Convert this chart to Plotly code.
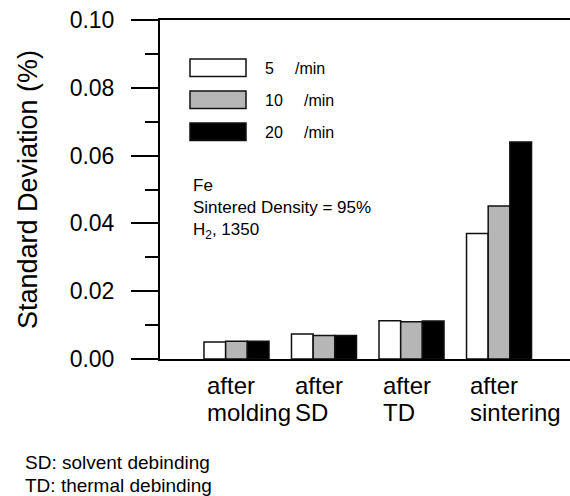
import plotly.graph_objects as go

# Processing stages and standard deviation (%) for each heating rate
stage_top = ["after", "after", "after", "after"]
stage_bottom = ["molding", "SD", "TD", "sintering"]
rate_labels = ["5", "10", "20"]
rate_unit = "/min"
rate5 = [0.0050, 0.0074, 0.0113, 0.0370]
rate10 = [0.0052, 0.0069, 0.0110, 0.0451]
rate20 = [0.0052, 0.0069, 0.0112, 0.0640]
y_ticks = [0.00, 0.02, 0.04, 0.06, 0.08, 0.10]
note_lines = ["Fe", "Sintered Density = 95%", "H<sub>2</sub>, 1350"]
footnotes = ["SD: solvent debinding", "TD: thermal debinding"]

FONT = "Liberation Sans, Arial, sans-serif"
W, H = 570, 496
L, R, T, B = 160, 0, 20, 137
fills = ["#ffffff", "#b6b6b6", "#000000"]
series = [rate5, rate10, rate20]

fig = go.Figure()
xpos = list(range(len(stage_top)))
for name, vals, col in zip(rate_labels, series, fills):
    fig.add_trace(go.Bar(
        x=xpos, y=vals, name=name + " " + rate_unit,
        marker=dict(color=col, line=dict(color="#111111", width=1.5)),
        showlegend=False,
    ))

# helpers to convert pixel positions to paper coordinates
pw, ph = W - L - R, H - T - B
def px(x):
    return (x - L) / pw
def py(y):
    return (H - B - y) / ph

shapes = []
annotations = []

# hand-drawn key with large swatches
box_tops = [59, 91, 123]
unit_x = [293, 302, 302]
for lab, col, top, ux in zip(rate_labels, fills, box_tops, unit_x):
    shapes.append(dict(type="rect", xref="paper", yref="paper",
                       x0=px(190), x1=px(246), y0=py(top + 17.5), y1=py(top),
                       fillcolor=col, line=dict(color="#111111", width=1.5)))
    annotations.append(dict(xref="paper", yref="paper", x=px(263), y=py(top + 9),
                            text=lab, showarrow=False, xanchor="left", yanchor="middle",
                            font=dict(size=16, color="black", family=FONT)))
    annotations.append(dict(xref="paper", yref="paper", x=px(ux), y=py(top + 9),
                            text=rate_unit, showarrow=False, xanchor="left", yanchor="middle",
                            font=dict(size=16, color="black", family=FONT)))

# sample conditions
annotations.append(dict(xref="paper", yref="paper", x=px(191), y=py(174),
                        text="<br>".join(note_lines), showarrow=False,
                        xanchor="left", yanchor="top", align="left",
                        font=dict(size=17, color="black", family=FONT)))

# stage labels under each group (two lines each)
for i, (a, b) in enumerate(zip(stage_top, stage_bottom)):
    for txt, yc in ((a, 385), (b, 412)):
        annotations.append(dict(xref="x", yref="paper", x=i, y=py(yc), xshift=-31,
                                text=txt, showarrow=False, xanchor="left",
                                yanchor="middle",
                                font=dict(size=24, color="black", family=FONT)))

# abbreviations
for txt, yc in zip(footnotes, (463, 485)):
    annotations.append(dict(xref="paper", yref="paper", x=px(23), y=py(yc),
                            text=txt, showarrow=False,
                            xanchor="left", yanchor="middle",
                            font=dict(size=19, color="black", family=FONT)))

fig.update_layout(
    width=W, height=H,
    margin=dict(l=L, r=R, t=T, b=B, pad=0),
    paper_bgcolor="white", plot_bgcolor="white",
    barmode="group", bargap=0.257, bargroupgap=0,
    font=dict(family=FONT, color="black"),
    shapes=shapes, annotations=annotations,
    xaxis=dict(range=[-0.874, 3.811], showticklabels=False, ticks="",
               showgrid=False, zeroline=False, showline=True, mirror=True,
               linecolor="black", linewidth=2),
    yaxis=dict(range=[0, 0.10], tickvals=y_ticks, tickformat=".2f",
               ticks="outside", ticklen=27, tickwidth=2, tickcolor="black",
               ticklabelstandoff=12,
               minor=dict(dtick=0.01, ticks="outside", ticklen=13, tickwidth=2,
                          tickcolor="black", showgrid=False),
               tickfont=dict(size=23, color="black", family=FONT),
               showgrid=False, zeroline=False, showline=True,
               linecolor="black", linewidth=2,
               title=dict(text="Standard Deviation (%)", standoff=24,
                          font=dict(size=27, color="black", family=FONT))),
)

fig.write_html("out.html")
